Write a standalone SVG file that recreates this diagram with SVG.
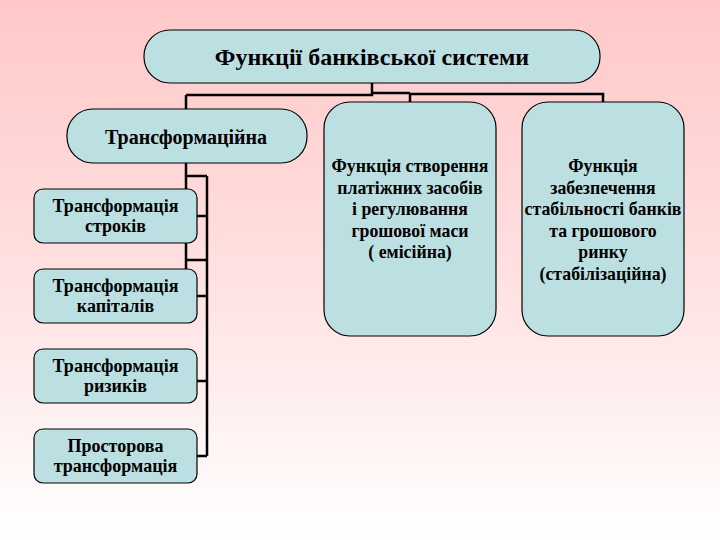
<svg xmlns="http://www.w3.org/2000/svg" width="720" height="540" viewBox="0 0 720 540">
  <defs>
    <linearGradient id="bg" x1="0" y1="0" x2="0" y2="1">
      <stop offset="0" stop-color="#ffc8c8"/>
      <stop offset="0.5" stop-color="#ffe0e0"/>
      <stop offset="1" stop-color="#ffffff"/>
    </linearGradient>
  </defs>
  <style>
    .box { fill: #bcdfe2; stroke: #000; stroke-width: 1.2; }
    .ln { fill: none; stroke: #000; stroke-width: 2.5; }
  </style>
  <rect x="0" y="0" width="720" height="540" fill="url(#bg)"/>

  <g id="connectors">
    <path class="ln" d="M372 83 V95 M186 95 H372 V93 H410 M410 93 V102 M410 94 H603 V102 M186 95 V109"/>
    <path class="ln" d="M186 163 V269 M186 176 H207 M186 260 H207 M207 176 V456 M196 216 H207 M196 296 H207 M196 381 H207 M196 456 H207"/>
  </g>

  <g id="root">
    <rect class="box" x="144" y="30" width="456" height="53" rx="26"/>
    <text font-family="Liberation Serif" font-weight="bold" font-size="24" text-anchor="middle" x="372" y="65">Функції банківської  системи</text>
  </g>

  <g id="transform">
    <rect class="box" x="67" y="109" width="240" height="54" rx="26"/>
    <text font-family="Liberation Serif" font-weight="bold" font-size="20" text-anchor="middle" x="186" y="144">Трансформаційна</text>
  </g>

  <g id="t-terms">
    <rect class="box" x="34" y="189" width="163" height="54" rx="9"/>
    <text font-family="Liberation Serif" font-weight="bold" font-size="18" text-anchor="middle" x="115.5" y="212">Трансформація</text>
    <text font-family="Liberation Serif" font-weight="bold" font-size="18" text-anchor="middle" x="115.5" y="232">строків</text>
  </g>
  <g id="t-capital">
    <rect class="box" x="34" y="269" width="163" height="54" rx="9"/>
    <text font-family="Liberation Serif" font-weight="bold" font-size="18" text-anchor="middle" x="115.5" y="292">Трансформація</text>
    <text font-family="Liberation Serif" font-weight="bold" font-size="18" text-anchor="middle" x="115.5" y="312">капіталів</text>
  </g>
  <g id="t-risk">
    <rect class="box" x="34" y="349" width="163" height="54" rx="9"/>
    <text font-family="Liberation Serif" font-weight="bold" font-size="18" text-anchor="middle" x="115.5" y="372">Трансформація</text>
    <text font-family="Liberation Serif" font-weight="bold" font-size="18" text-anchor="middle" x="115.5" y="392">ризиків</text>
  </g>
  <g id="t-space">
    <rect class="box" x="34" y="429" width="163" height="54" rx="9"/>
    <text font-family="Liberation Serif" font-weight="bold" font-size="18" text-anchor="middle" x="115.5" y="452">Просторова</text>
    <text font-family="Liberation Serif" font-weight="bold" font-size="18" text-anchor="middle" x="115.5" y="472">трансформація</text>
  </g>

  <g id="emission">
    <rect class="box" x="324" y="102" width="172" height="234" rx="26"/>
    <text font-family="Liberation Serif" font-weight="bold" font-size="17.8" text-anchor="middle" x="410" y="172">Функція створення</text>
    <text font-family="Liberation Serif" font-weight="bold" font-size="17.8" text-anchor="middle" x="410" y="193.5">платіжних засобів</text>
    <text font-family="Liberation Serif" font-weight="bold" font-size="17.8" text-anchor="middle" x="410" y="215">і регулювання</text>
    <text font-family="Liberation Serif" font-weight="bold" font-size="17.8" text-anchor="middle" x="410" y="236.5">грошової маси</text>
    <text font-family="Liberation Serif" font-weight="bold" font-size="17.8" text-anchor="middle" x="410" y="258">( емісійна)</text>
  </g>

  <g id="stabilization">
    <rect class="box" x="522" y="102" width="162" height="234" rx="26"/>
    <text font-family="Liberation Serif" font-weight="bold" font-size="17.8" text-anchor="middle" x="603" y="172">Функція</text>
    <text font-family="Liberation Serif" font-weight="bold" font-size="17.8" text-anchor="middle" x="603" y="193.5">забезпечення</text>
    <text font-family="Liberation Serif" font-weight="bold" font-size="17.8" text-anchor="middle" x="603" y="215">стабільності банків</text>
    <text font-family="Liberation Serif" font-weight="bold" font-size="17.8" text-anchor="middle" x="603" y="236.5">та грошового</text>
    <text font-family="Liberation Serif" font-weight="bold" font-size="17.8" text-anchor="middle" x="603" y="258">ринку</text>
    <text font-family="Liberation Serif" font-weight="bold" font-size="17.8" text-anchor="middle" x="603" y="279.5">(стабілізаційна)</text>
  </g>
</svg>
